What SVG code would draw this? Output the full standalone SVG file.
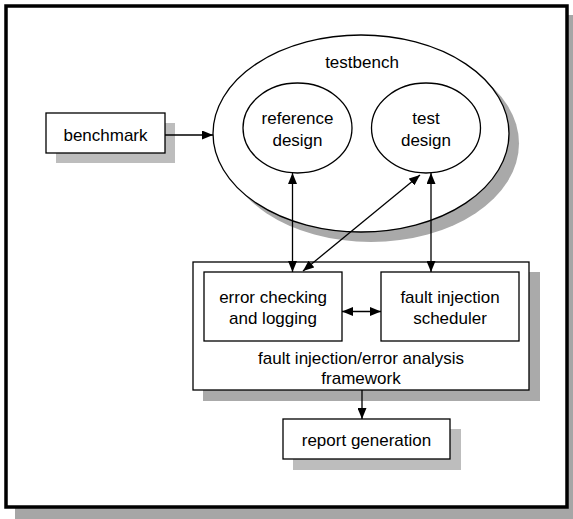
<svg xmlns="http://www.w3.org/2000/svg" width="573" height="519" viewBox="0 0 573 519">
<style>
.box{fill:#fff;stroke:#000;stroke-width:1.3}
.sh{fill:#bdbdbd}
.t{font-family:"Liberation Sans",Arial,sans-serif;font-size:17px;fill:#000;text-anchor:middle}
.c{fill:none;stroke:#000;stroke-width:1.3}
</style>
<defs>
<marker id="ah" viewBox="0 0 10 10" refX="10" refY="5" markerWidth="11" markerHeight="9" markerUnits="userSpaceOnUse" orient="auto-start-reverse" preserveAspectRatio="none">
<path d="M0,0 L10,5 L0,10 z" fill="#000"/>
</marker>
</defs>
<rect width="573" height="519" fill="#fff"/>
<g id="frame">
<rect x="15" y="15" width="558" height="504" fill="#a6a6a6"/>
<rect x="6" y="6" width="561" height="501" fill="#fff" stroke="#000" stroke-width="3.5"/>
</g>
<g id="testbench">
<ellipse cx="371" cy="143.5" rx="148" ry="98.5" fill="#a9a9a9"/>
<ellipse class="box" cx="361" cy="133.5" rx="148" ry="98.5"/>
<text class="t" x="362" y="68">testbench</text>
</g>
<g id="reference">
<ellipse class="box" cx="297.5" cy="128" rx="54.5" ry="45"/>
<text class="t" x="297.5" y="124">reference</text>
<text class="t" x="297.5" y="146">design</text>
</g>
<g id="test">
<ellipse class="box" cx="426" cy="128" rx="54.5" ry="45"/>
<text class="t" x="426" y="124">test</text>
<text class="t" x="426" y="146">design</text>
</g>
<g id="benchmark">
<rect class="sh" x="56" y="123" width="119" height="40"/>
<rect class="box" x="46" y="113" width="119" height="40"/>
<text class="t" x="105.5" y="141">benchmark</text>
</g>
<g id="framework">
<rect x="203" y="272" width="337" height="129" fill="#aaaaaa"/>
<rect class="box" x="193" y="262" width="336" height="128"/>
<text class="t" x="361" y="364">fault injection/error analysis</text>
<text class="t" x="361" y="384">framework</text>
</g>
<g id="errorcheck">
<rect class="box" x="204" y="272" width="138" height="69"/>
<text class="t" x="273" y="303">error checking</text>
<text class="t" x="273" y="324">and logging</text>
</g>
<g id="scheduler">
<rect class="box" x="381" y="272" width="138" height="69"/>
<text class="t" x="450" y="303">fault injection</text>
<text class="t" x="450" y="324">scheduler</text>
</g>
<g id="report">
<rect class="sh" x="293" y="429" width="168" height="41"/>
<rect class="box" x="283" y="419" width="167" height="40"/>
<text class="t" x="366.5" y="446">report generation</text>
</g>
<g id="connectors">
<line class="c" x1="165" y1="135" x2="213" y2="135" marker-end="url(#ah)"/>
<line class="c" x1="292.5" y1="173" x2="292.5" y2="272" marker-start="url(#ah)" marker-end="url(#ah)"/>
<line class="c" x1="431" y1="173" x2="431" y2="272" marker-start="url(#ah)" marker-end="url(#ah)"/>
<line class="c" x1="420" y1="175" x2="303" y2="271" marker-start="url(#ah)" marker-end="url(#ah)"/>
<line class="c" x1="342" y1="311.5" x2="381" y2="311.5" marker-start="url(#ah)" marker-end="url(#ah)"/>
<line class="c" x1="362" y1="390" x2="362" y2="419" marker-end="url(#ah)"/>
</g>
</svg>
